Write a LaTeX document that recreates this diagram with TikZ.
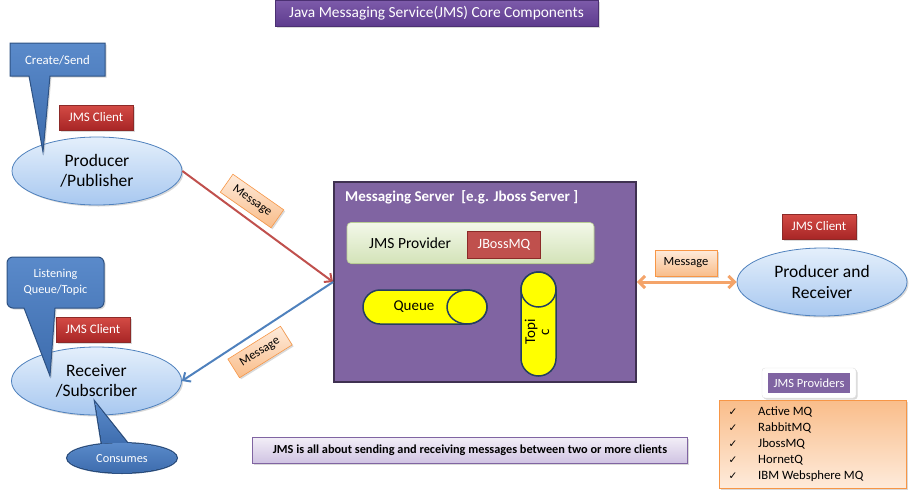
\documentclass[tikz,border=0pt]{standalone}
\usepackage{fontspec}
\setmainfont{Carlito}
\newfontfamily\dejavu{DejaVu Sans}
\usetikzlibrary{shapes.geometric,arrows.meta,shadows,calc}
\definecolor{purpT}{HTML}{7D5BAA}
\definecolor{purpB}{HTML}{5E3C8E}
\definecolor{blueT}{HTML}{5A8ACA}
\definecolor{blueB}{HTML}{3D6CAD}
\definecolor{blueD}{HTML}{2E5283}
\definecolor{redT}{HTML}{D44B45}
\definecolor{redB}{HTML}{A82626}
\definecolor{redD}{HTML}{8C2A28}
\definecolor{ellT}{HTML}{E4EFFB}
\definecolor{ellB}{HTML}{A8C8F0}
\definecolor{ellD}{HTML}{4F81BD}
\definecolor{srv}{HTML}{8064A2}
\definecolor{srvD}{HTML}{3F3151}
\definecolor{grnT}{HTML}{F3F8E9}
\definecolor{grnB}{HTML}{D3E3B8}
\definecolor{grnD}{HTML}{B9CD94}
\definecolor{jbF}{HTML}{C0504D}
\definecolor{orT}{HTML}{FEEBDB}
\definecolor{orB}{HTML}{F9BD8A}
\definecolor{orD}{HTML}{F79646}
\definecolor{lavT}{HTML}{F2EEF7}
\definecolor{lavB}{HTML}{CFC2E2}
\definecolor{lavD}{HTML}{8064A2}
\definecolor{yel}{HTML}{FFFF00}
\definecolor{navy}{HTML}{243F60}
\definecolor{arrRed}{HTML}{C0504D}
\definecolor{arrBlue}{HTML}{4F81BD}
\definecolor{arrOr}{HTML}{F4A46A}
\tikzset{
  shd/.style={drop shadow={opacity=0.3, shadow xshift=1.5pt, shadow yshift=-1.5pt}},
  fs/.style={font=\pgfmathsetmacro\lsk{1.2*#1}\fontsize{#1}{\lsk}\selectfont},
  redbox/.style={shd, draw=redD, top color=redT, bottom color=redB, text=white,
    fs=13, minimum width=74pt, minimum height=25pt, inner sep=0pt},
  cloud/.style={shd, ellipse, draw=ellD, line width=0.8pt, top color=ellT, bottom color=ellB,
    minimum width=170pt, minimum height=68pt, inner sep=0pt, align=center,
    font=\fontsize{17.5}{20.5}\selectfont},
  msgbox/.style={shd, draw=orD, line width=0.6pt, top color=orT, bottom color=orB,
    minimum width=62pt, minimum height=22pt, inner sep=0pt, fs=12.5},
  callfill/.style={top color=blueT, bottom color=blueB},
  whitetxt/.style={text=white, align=center},
  cyl/.style={fill=yel, draw=navy, line width=1.5pt},
  arr/.style={line width=2pt, -{Straight Barb[length=6pt,width=11pt]}},
  item/.style={anchor=west, inner sep=0pt, fs=12.7},
  tick/.style={inner sep=0pt, font=\dejavu\fontsize{10.5}{12}\selectfont},
}
\begin{document}
\begin{tikzpicture}[x=1pt,y=-1pt]
\useasboundingbox (0,0) rectangle (909,493);
% title
\node[shd, top color=purpT, bottom color=purpB, draw=purpB!80!black, line width=0.4pt,
  minimum width=323pt, minimum height=26pt, inner sep=0pt, text=white, fs=15.4] (title) at (436.5,13)
  {Java Messaging Service(JMS) Core Components};

% client ellipses
\node[cloud] (prod) at (97,171) {Producer\\/Publisher};
\node[cloud] (recv) at (96.5,381) {Receiver\\/Subscriber};
\node[cloud] (pr) at (822,282) {Producer and\\Receiver};

% Create/Send callout
\path[shd, callfill, draw=blueD, line width=1pt]
  (10,43) -- (105,43) -- (105,76) -- (50,76) -- (43,152) -- (29,76) -- (10,76) -- cycle;
\node[whitetxt, fs=12.8] (create) at (57.5,60) {Create/Send};

% Listening callout
\path[shd, callfill, draw=blueD, line width=1pt, rounded corners=6pt]
  (24,308) -- (7,308) -- (7,257) -- (104,257) -- (104,308) [sharp corners] -- (55,308) -- (50,376) -- cycle;
\node[whitetxt, fs=12.2, inner sep=0pt] (listen) at (55.5,282) {Listening\\[1pt]Queue/Topic};

% JMS client labels
\node[redbox] (jc1) at (96,117.5) {JMS Client};
\node[redbox] (jc2) at (93,329.5) {JMS Client};
\node[redbox] (jc3) at (819,226.5) {JMS Client};

% Consumes callout
\draw[blueD, line width=2pt] (102,446) -- (95,402) -- (130,446);
\draw[blueD, line width=2pt] (122,458) ellipse [x radius=55, y radius=15];
\fill[callfill] (102,446) -- (95,402) -- (130,446) -- cycle;
\fill[callfill] (122,458) ellipse [x radius=55, y radius=15];
\node[whitetxt, fs=12.3] (cons) at (122,459) {Consumes};

% messaging server
\node[draw=srvD, line width=1.8pt, fill=srv, minimum width=302pt, minimum height=200pt, inner sep=0pt] (server) at (485,282) {};
\node[anchor=west, text=white, font=\bfseries\fontsize{15}{17}\selectfont, inner sep=0pt] (srvtitle) at (345,197)
  {Messaging Server\ \ [e.g. Jboss Server ]};
\node[shd, draw=grnD, line width=0.6pt, top color=grnT, bottom color=grnB, rounded corners=4pt,
  minimum width=247pt, minimum height=41pt, inner sep=0pt] (prov) at (470.5,243) {};
\node[anchor=west, inner sep=0pt, fs=15.5] (provtxt) at (369,243) {JMS Provider};
\node[draw=redD, line width=1pt, fill=jbF, text=white, minimum width=73pt, minimum height=27pt,
  inner sep=0pt, fs=14.2] (jboss) at (504,244.5) {JBossMQ};

% Queue (horizontal cylinder)
\path[cyl] (467,290) -- (380,290) arc[start angle=270, end angle=90, radius=17]
  -- (467,324) arc[start angle=90, end angle=-90, x radius=20, y radius=17] -- cycle;
\draw[cyl] (467,307) ellipse [x radius=20, y radius=17];
\node[fs=15, inner sep=0pt] (queue) at (414,307) {Queue};

% Topic (vertical cylinder)
\path[cyl] (521,289.5) -- (521,358.5) arc[start angle=180, end angle=0, radius=17.5]
  -- (556,289.5) arc[start angle=0, end angle=-180, radius=17.5] -- cycle;
\draw[cyl] (538.5,289.5) circle [radius=17.5];
\node[font=\fontsize{15}{14}\selectfont, rotate=90, align=center, inner sep=0pt] (topic) at (537,332) {Topi\\c};

% connectors
\draw[arr, arrRed] (prod.east) -- (server.west);
\draw[arr, arrBlue] (server.west) -- (recv.east);
\draw[line width=3pt, arrOr, {Straight Barb[length=6pt,width=12pt]}-{Straight Barb[length=6pt,width=12pt]}]
  (server.east) -- (pr.west);

% message labels
\node[msgbox, rotate=-35] (m1) at (252,201) {Message};
\node[msgbox, rotate=32] (m2) at (260,352) {Message};
\node[msgbox, minimum height=26pt] (m3) at (686,263) {Message};

% JMS providers
\node[shd, fill=white, draw=black!12, rounded corners=3pt, minimum width=94pt, minimum height=30pt, inner sep=0pt] (provframe) at (809,383) {};
\node[fill=srv, text=white, minimum width=82pt, minimum height=20pt, inner sep=0pt, fs=12.5] (provlbl) at (809,383) {JMS Providers};
\node[shd, draw=orD, line width=0.8pt, top color=orB, bottom color=orT, minimum width=187pt,
  minimum height=88pt, inner sep=0pt] (list) at (812.5,444) {};
\foreach \t [count=\i from 0] in {Active MQ, RabbitMQ, JbossMQ, HornetQ, IBM Websphere MQ} {
  \node[tick] (tk\i) at (733,{412+16*\i}) {✓};
  \node[item] (it\i) at (758,{412+16*\i}) {\t};
}

% bottom statement
\node[shd, draw=lavD, line width=0.6pt, top color=lavT, bottom color=lavB, minimum width=435pt,
  minimum height=26pt, inner sep=0pt, font=\bfseries\fontsize{12.3}{14}\selectfont] (about) at (470,450.5)
  {JMS is all about sending and receiving messages between two or more clients};
\end{tikzpicture}
\end{document}
